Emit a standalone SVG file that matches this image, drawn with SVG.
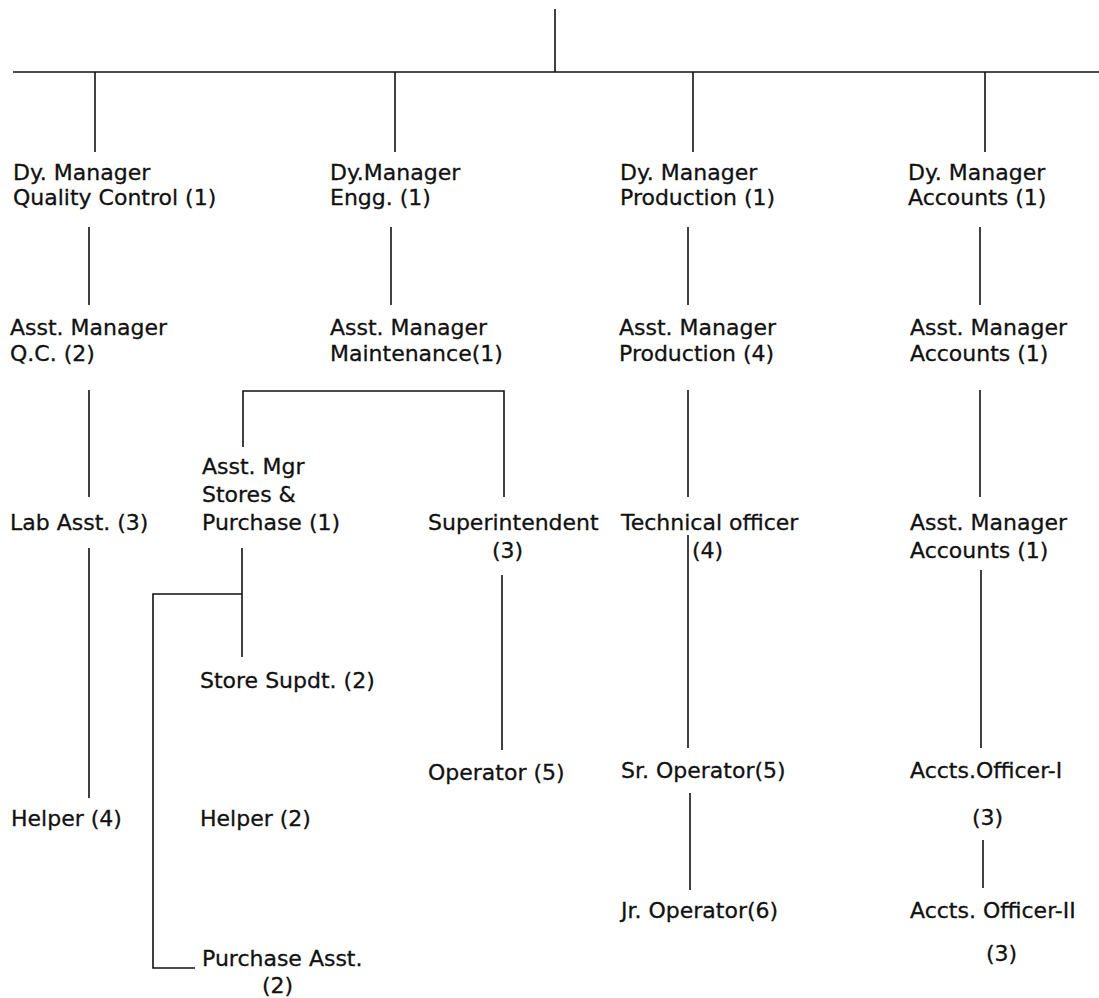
<svg xmlns="http://www.w3.org/2000/svg" width="1099" height="998" viewBox="0 0 1099 998">
<style>
text{font-family:"DejaVu Sans","Liberation Sans",sans-serif;font-size:22px;fill:#111;stroke:#111;stroke-width:0.3}
.c line,.c polyline{stroke:#111;stroke-width:1.6;fill:none}
</style>
<rect width="1099" height="998" fill="#fff"/>
<g class="c" id="connectors">
<line x1="555" y1="9" x2="555" y2="72"/>
<line x1="13" y1="72" x2="1099" y2="72"/>
<line x1="95" y1="72" x2="95" y2="152"/>
<line x1="395" y1="72" x2="395" y2="152"/>
<line x1="693" y1="72" x2="693" y2="152"/>
<line x1="985" y1="72" x2="985" y2="152"/>
<line x1="89" y1="227" x2="89" y2="305"/>
<line x1="391" y1="227" x2="391" y2="305"/>
<line x1="688" y1="227" x2="688" y2="305"/>
<line x1="980" y1="227" x2="980" y2="305"/>
<line x1="89" y1="390" x2="89" y2="497"/>
<polyline points="243,447 243,391 504,391 504,497"/>
<line x1="688" y1="390" x2="688" y2="497"/>
<line x1="980" y1="390" x2="980" y2="497"/>
<line x1="89" y1="548" x2="89" y2="798"/>
<line x1="242" y1="548" x2="242" y2="657"/>
<polyline points="242,594 153,594 153,968 195,968"/>
<line x1="502" y1="575" x2="502" y2="750"/>
<line x1="688" y1="535" x2="688" y2="748"/>
<line x1="981" y1="570" x2="981" y2="748"/>
<line x1="690" y1="793" x2="690" y2="890"/>
<line x1="983" y1="840" x2="983" y2="888"/>
</g>
<g id="dm-qc"><text x="13" y="180">Dy. Manager</text><text x="13" y="205">Quality Control (1)</text></g>
<g id="dm-engg"><text x="330" y="180">Dy.Manager</text><text x="330" y="205">Engg. (1)</text></g>
<g id="dm-prod"><text x="620" y="180">Dy. Manager</text><text x="620" y="205">Production (1)</text></g>
<g id="dm-acc"><text x="908" y="180">Dy. Manager</text><text x="908" y="205">Accounts (1)</text></g>
<g id="am-qc"><text x="10" y="335">Asst. Manager</text><text x="10" y="361">Q.C. (2)</text></g>
<g id="am-maint"><text x="330" y="335">Asst. Manager</text><text x="330" y="361">Maintenance(1)</text></g>
<g id="am-prod"><text x="619" y="335">Asst. Manager</text><text x="619" y="361">Production (4)</text></g>
<g id="am-acc1"><text x="910" y="335">Asst. Manager</text><text x="910" y="361">Accounts (1)</text></g>
<g id="lab"><text x="10" y="530">Lab Asst. (3)</text></g>
<g id="amsp"><text x="202" y="474">Asst. Mgr</text><text x="202" y="502">Stores &amp;</text><text x="202" y="530">Purchase (1)</text></g>
<g id="supt"><text x="428" y="530">Superintendent</text><text x="492" y="558">(3)</text></g>
<g id="tech"><text x="621" y="530">Technical officer</text><text x="692" y="558">(4)</text></g>
<g id="am-acc2"><text x="910" y="530">Asst. Manager</text><text x="910" y="558">Accounts (1)</text></g>
<g id="store"><text x="200" y="688">Store Supdt. (2)</text></g>
<g id="operator"><text x="428" y="780">Operator (5)</text></g>
<g id="sr-op"><text x="621" y="778">Sr. Operator(5)</text></g>
<g id="ao1"><text x="910" y="778">Accts.Officer-I</text><text x="972" y="825">(3)</text></g>
<g id="helper4"><text x="11" y="826">Helper (4)</text></g>
<g id="helper2"><text x="200" y="826">Helper (2)</text></g>
<g id="jr-op"><text x="621" y="918">Jr. Operator(6)</text></g>
<g id="ao2"><text x="910" y="918">Accts. Officer-II</text><text x="986" y="961">(3)</text></g>
<g id="pa"><text x="202" y="966">Purchase Asst.</text><text x="262" y="993">(2)</text></g>
</svg>
